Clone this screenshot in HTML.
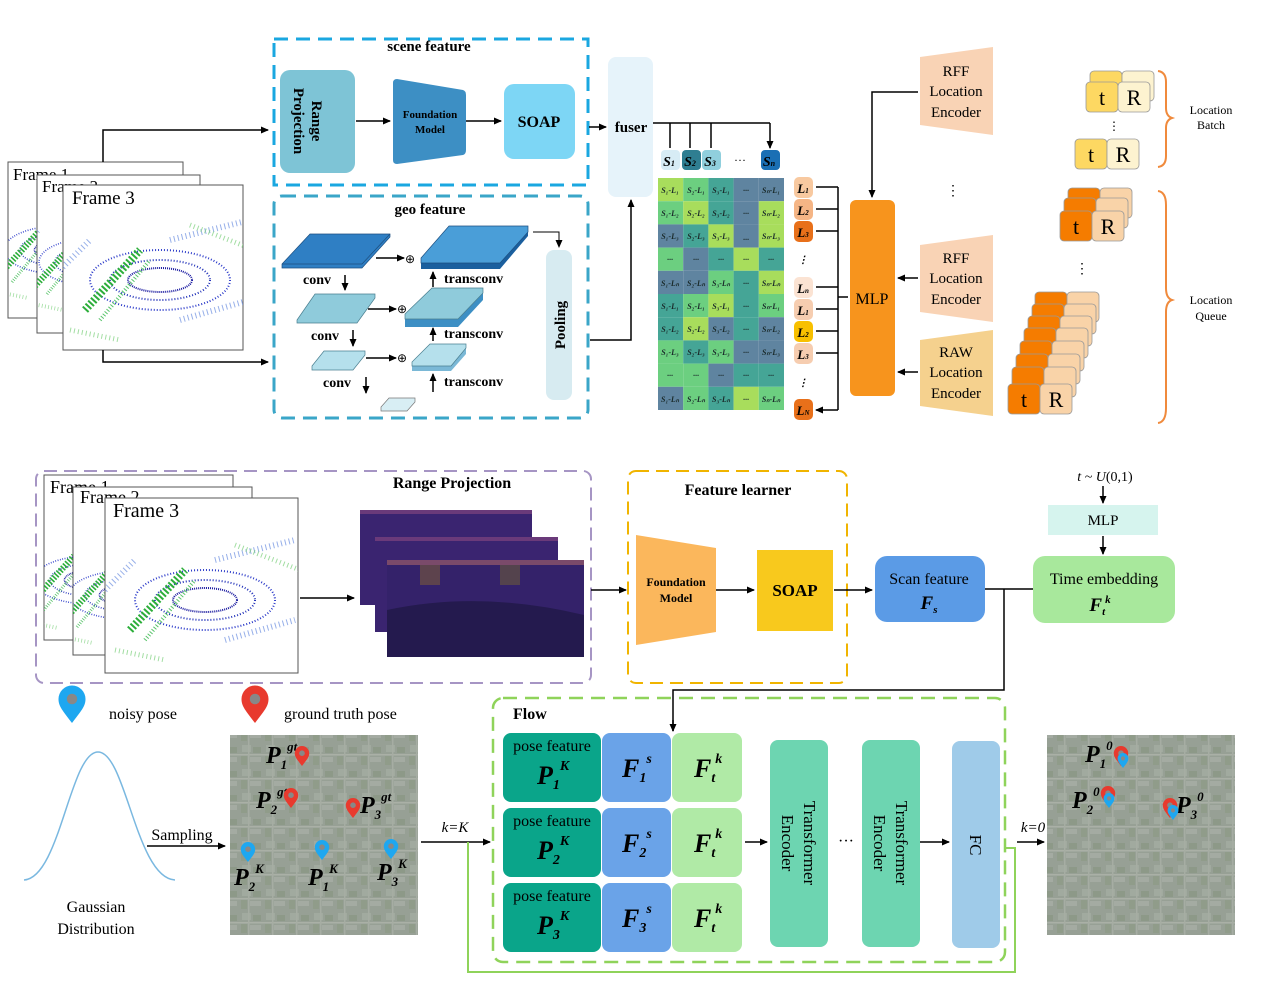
<!DOCTYPE html>
<html><head><meta charset="utf-8"><style>
html,body{margin:0;padding:0;background:#fff}
svg{display:block}
text{font-family:"Liberation Serif",serif}
</style></head><body>
<svg width="1264" height="984" viewBox="0 0 1264 984" xmlns="http://www.w3.org/2000/svg">
<defs>
<marker id="a" markerWidth="8" markerHeight="8" refX="7" refY="4" orient="auto" markerUnits="userSpaceOnUse"><path d="M0,0.5 L8,4 L0,7.5 z" fill="#000"/></marker>
<pattern id="map" width="24" height="24" patternUnits="userSpaceOnUse">
<rect width="24" height="24" fill="#8c968c"/>
<rect x="2" y="1" width="9" height="7" fill="#a3aaa2"/><rect x="13" y="3" width="8" height="6" fill="#76866f"/>
<rect x="1" y="12" width="6" height="9" fill="#7d8c74"/><rect x="10" y="13" width="11" height="5" fill="#a9aea8"/>
<rect x="0" y="10" width="24" height="1.5" fill="#b5b8b2"/><rect x="8" y="0" width="1.5" height="24" fill="#aeb1ab"/>
</pattern>
<g id="pc">
<ellipse cx="0" cy="0" rx="70" ry="30" fill="none" stroke="#2a39c9" stroke-width="2" stroke-dasharray="1 2"/>
<ellipse cx="0" cy="0" rx="50" ry="20" fill="none" stroke="#1f2fb8" stroke-width="2" stroke-dasharray="1 2"/>
<ellipse cx="0" cy="0" rx="32" ry="12" fill="none" stroke="#1a1aa0" stroke-width="2" stroke-dasharray="1 1"/>
<path d="M-75,30 L-20,-30" stroke="#2cae3a" stroke-width="8" stroke-dasharray="2 2"/>
<path d="M-60,40 L-10,-20" stroke="#58c46a" stroke-width="4" stroke-dasharray="1 2"/>
<path d="M10,-40 L90,-60 M20,40 L90,20 M-100,-10 L-70,-40" stroke="#6b8ee0" stroke-width="6" stroke-dasharray="1 3" opacity=".7"/>
<path d="M30,-55 L95,-30 M-90,50 L-40,60" stroke="#7cd07c" stroke-width="5" stroke-dasharray="1 3" opacity=".7"/>
</g>
<g id="pinb"><path d="M0,0 c-6,-8 -9,-11 -9,-16 a9,9 0 1 1 18,0 c0,5 -3,8 -9,16z" fill="#1ea7f0"/><circle cx="0" cy="-16" r="3.5" fill="#888"/></g>
<g id="pinr"><path d="M0,0 c-6,-8 -9,-11 -9,-16 a9,9 0 1 1 18,0 c0,5 -3,8 -9,16z" fill="#e83a2e"/><circle cx="0" cy="-16" r="3.5" fill="#888"/></g>
<clipPath id="c1"><rect x="63" y="185" width="180" height="165"/></clipPath>
<clipPath id="c2"><rect x="105" y="498" width="193" height="175"/></clipPath>
<clipPath id="t1"><rect x="8" y="162" width="175" height="156"/></clipPath>
<clipPath id="t2"><rect x="37" y="175" width="163" height="158"/></clipPath>
<clipPath id="b1"><rect x="44" y="475" width="189" height="165"/></clipPath>
<clipPath id="b2"><rect x="73" y="487" width="179" height="168"/></clipPath>
</defs>

<!-- ===== top left frames ===== -->
<rect x="8" y="162" width="175" height="156" fill="#fff" stroke="#555"/>
<g clip-path="url(#t1)"><g transform="translate(60,250) scale(.8)"><use href="#pc"/></g></g>
<text x="13" y="180" font-size="17">Frame 1</text>
<rect x="37" y="175" width="163" height="158" fill="#fff" stroke="#555"/>
<g clip-path="url(#t2)"><g transform="translate(95,262) scale(.8)"><use href="#pc"/></g></g>
<text x="42" y="192" font-size="17">Frame 2</text>
<rect x="63" y="185" width="180" height="165" fill="#fff" stroke="#555"/>
<g clip-path="url(#c1)"><g transform="translate(160,280)"><use href="#pc"/></g></g>
<text x="72" y="204" font-size="19">Frame 3</text>
<path d="M103,162 V130 H268" fill="none" stroke="#000" stroke-width="1.5" marker-end="url(#a)"/>
<path d="M103,350 V362 H268" fill="none" stroke="#000" stroke-width="1.5" marker-end="url(#a)"/>

<!-- scene feature -->
<rect x="274" y="39" width="314" height="146" fill="none" stroke="#1aa7e0" stroke-width="3" stroke-dasharray="14 8"/>
<text x="429" y="51" font-size="15" font-weight="bold" text-anchor="middle">scene feature</text>
<rect x="280" y="70" width="75" height="103" rx="10" fill="#7ec4d6"/>
<text transform="translate(312,121) rotate(90)" font-size="15" font-weight="bold" text-anchor="middle">Range</text>
<text transform="translate(294,121) rotate(90)" font-size="15" font-weight="bold" text-anchor="middle">Projection</text>
<path d="M356,121 H390" stroke="#000" stroke-width="1.5" marker-end="url(#a)"/>
<path d="M397,79 L463,90 Q466,91 466,95 V150 Q466,154 463,155 L397,164 Q393,164 393,160 V83 Q393,79 397,79z" fill="#3d8fc4"/>
<text x="430" y="118" font-size="11" font-weight="bold" text-anchor="middle">Foundation</text>
<text x="430" y="133" font-size="11" font-weight="bold" text-anchor="middle">Model</text>
<path d="M466,121 H501" stroke="#000" stroke-width="1.5" marker-end="url(#a)"/>
<rect x="504" y="84" width="71" height="75" rx="10" fill="#7dd6f5"/>
<text x="539" y="127" font-size="16" font-weight="bold" text-anchor="middle">SOAP</text>
<path d="M589,127 H606" stroke="#000" stroke-width="1.5" marker-end="url(#a)"/>

<!-- geo feature -->
<rect x="274" y="196" width="314" height="222" rx="8" fill="none" stroke="#3aa6c8" stroke-width="3" stroke-dasharray="14 8"/>
<text x="430" y="214" font-size="15" font-weight="bold" text-anchor="middle">geo feature</text>
<path d="M282,264 L310,234 L390,234 L390,237 L362,268 L282,268z" fill="#2f7fc4" stroke="#1d4f80" stroke-width=".7"/>
<path d="M282,264 L362,264 L390,234" fill="none" stroke="#1d4f80" stroke-width=".7"/>
<text x="303" y="284" font-size="14" font-weight="bold">conv</text><path d="M345,275 V290" stroke="#000" stroke-width="1.5" marker-end="url(#a)"/>
<path d="M297,320 L315,294 L375,294 L375,298 L357,323 L297,323z" fill="#8fcbdb" stroke="#4a7f90" stroke-width=".7"/>
<text x="311" y="340" font-size="14" font-weight="bold">conv</text><path d="M353,330 V346" stroke="#000" stroke-width="1.5" marker-end="url(#a)"/>
<path d="M312,366 L324,351 L365,351 L365,355 L353,370 L312,370z" fill="#b5e0ec" stroke="#4a7f90" stroke-width=".7"/>
<text x="323" y="387" font-size="14" font-weight="bold">conv</text><path d="M366,377 V393" stroke="#000" stroke-width="1.5" marker-end="url(#a)"/>
<path d="M381,407 L389,398 L415,398 L415,402 L407,411 L381,411z" fill="#d8eef4" stroke="#777" stroke-width=".7"/>
<path d="M376,258 H404" stroke="#000" stroke-width="1.5" marker-end="url(#a)"/><text x="410" y="263" font-size="12" text-anchor="middle">⊕</text>
<path d="M368,309 H396" stroke="#000" stroke-width="1.5" marker-end="url(#a)"/><text x="402" y="313" font-size="12" text-anchor="middle">⊕</text>
<path d="M366,358 H396" stroke="#000" stroke-width="1.5" marker-end="url(#a)"/><text x="402" y="362" font-size="12" text-anchor="middle">⊕</text>
<path d="M421,262 L449,227 L528,227 L528,236 L500,269 L421,269z" fill="#1a5f9e"/>
<path d="M421,258 L449,226 L528,226 L528,232 L500,263 L421,263z" fill="#4a9ed8" stroke="#1d4f80" stroke-width=".7"/>
<path d="M405,318 L432,290 L483,290 L483,300 L458,327 L405,327z" fill="#3d8fc4"/>
<path d="M405,314 L432,288 L483,288 L483,293 L458,319 L405,319z" fill="#8fcbdb" stroke="#4a7f90" stroke-width=".7"/>
<path d="M412,366 L430,346 L466,346 L466,354 L451,371 L412,371z" fill="#7ab8d6"/>
<path d="M412,362 L430,344 L466,344 L466,348 L451,366 L412,366z" fill="#b5e0ec" stroke="#4a7f90" stroke-width=".7"/>
<text x="444" y="283" font-size="14" font-weight="bold">transconv</text><path d="M433,287 V272" stroke="#000" stroke-width="1.5" marker-end="url(#a)"/>
<text x="444" y="338" font-size="14" font-weight="bold">transconv</text><path d="M433,341 V328" stroke="#000" stroke-width="1.5" marker-end="url(#a)"/>
<text x="444" y="386" font-size="14" font-weight="bold">transconv</text><path d="M433,392 V374" stroke="#000" stroke-width="1.5" marker-end="url(#a)"/>
<path d="M533,232 H559 V247" fill="none" stroke="#000" stroke-width="1" marker-end="url(#a)"/>
<rect x="546" y="250" width="26" height="150" rx="8" fill="#d7ebf1"/>
<text transform="translate(565,325) rotate(-90)" font-size="15" font-weight="bold" text-anchor="middle">Pooling</text>
<path d="M590,340 H631 V200" fill="none" stroke="#000" stroke-width="1.5" marker-end="url(#a)"/>

<!-- fuser -->
<rect x="608" y="57" width="45" height="140" rx="8" fill="#e6f3fa"/>
<text x="631" y="132" font-size="15" font-weight="bold" text-anchor="middle">fuser</text>
<path d="M653,123 H770" stroke="#000" stroke-width="1.5"/>
<path d="M670,123 V148 M690,123 V148 M711,123 V148 M770,123 V148" stroke="#000" stroke-width="1.5" marker-end="url(#a)"/>
<rect x="661" y="150" width="19" height="20" rx="4" fill="#d7ecf5"/>
<rect x="682" y="150" width="19" height="20" rx="4" fill="#2f7e91"/>
<rect x="702" y="150" width="19" height="20" rx="4" fill="#90cfdd"/>
<rect x="761" y="150" width="19" height="20" rx="4" fill="#1a6fb4"/>
<g font-size="14" font-weight="bold" font-style="italic" text-anchor="middle">
<text x="669" y="166">S<tspan font-size="8">1</tspan></text>
<text x="690" y="166">S<tspan font-size="8">2</tspan></text>
<text x="710" y="166">S<tspan font-size="8">3</tspan></text>
<text x="769" y="166">S<tspan font-size="8">n</tspan></text>
</g>
<text x="740" y="164" font-size="12" text-anchor="middle">···</text>

<!-- matrix -->
<g>
<rect x="658" y="178" width="25.2" height="23.2" fill="#a8dd5c"/><rect x="683.2" y="178" width="25.2" height="23.2" fill="#6ccf80"/><rect x="708.4" y="178" width="25.2" height="23.2" fill="#45a596"/><rect x="733.6" y="178" width="25.2" height="23.2" fill="#5f84a0"/><rect x="758.8" y="178" width="25.2" height="23.2" fill="#5f84a0"/>
<rect x="658" y="201.2" width="25.2" height="23.2" fill="#6ccf80"/><rect x="683.2" y="201.2" width="25.2" height="23.2" fill="#a8dd5c"/><rect x="708.4" y="201.2" width="25.2" height="23.2" fill="#45a596"/><rect x="733.6" y="201.2" width="25.2" height="23.2" fill="#5f84a0"/><rect x="758.8" y="201.2" width="25.2" height="23.2" fill="#a8dd5c"/>
<rect x="658" y="224.4" width="25.2" height="23.2" fill="#5f84a0"/><rect x="683.2" y="224.4" width="25.2" height="23.2" fill="#45a596"/><rect x="708.4" y="224.4" width="25.2" height="23.2" fill="#a8dd5c"/><rect x="733.6" y="224.4" width="25.2" height="23.2" fill="#5f84a0"/><rect x="758.8" y="224.4" width="25.2" height="23.2" fill="#a8dd5c"/>
<rect x="658" y="247.6" width="25.2" height="23.2" fill="#6ccf80"/><rect x="683.2" y="247.6" width="25.2" height="23.2" fill="#5f84a0"/><rect x="708.4" y="247.6" width="25.2" height="23.2" fill="#45a596"/><rect x="733.6" y="247.6" width="25.2" height="23.2" fill="#a8dd5c"/><rect x="758.8" y="247.6" width="25.2" height="23.2" fill="#45a596"/>
<rect x="658" y="270.8" width="25.2" height="23.2" fill="#5f84a0"/><rect x="683.2" y="270.8" width="25.2" height="23.2" fill="#5f84a0"/><rect x="708.4" y="270.8" width="25.2" height="23.2" fill="#6ccf80"/><rect x="733.6" y="270.8" width="25.2" height="23.2" fill="#45a596"/><rect x="758.8" y="270.8" width="25.2" height="23.2" fill="#a8dd5c"/>
<rect x="658" y="294" width="25.2" height="23.2" fill="#45a596"/><rect x="683.2" y="294" width="25.2" height="23.2" fill="#6ccf80"/><rect x="708.4" y="294" width="25.2" height="23.2" fill="#a8dd5c"/><rect x="733.6" y="294" width="25.2" height="23.2" fill="#45a596"/><rect x="758.8" y="294" width="25.2" height="23.2" fill="#6ccf80"/>
<rect x="658" y="317.2" width="25.2" height="23.2" fill="#45a596"/><rect x="683.2" y="317.2" width="25.2" height="23.2" fill="#a8dd5c"/><rect x="708.4" y="317.2" width="25.2" height="23.2" fill="#5f84a0"/><rect x="733.6" y="317.2" width="25.2" height="23.2" fill="#45a596"/><rect x="758.8" y="317.2" width="25.2" height="23.2" fill="#5f84a0"/>
<rect x="658" y="340.4" width="25.2" height="23.2" fill="#6ccf80"/><rect x="683.2" y="340.4" width="25.2" height="23.2" fill="#45a596"/><rect x="708.4" y="340.4" width="25.2" height="23.2" fill="#6ccf80"/><rect x="733.6" y="340.4" width="25.2" height="23.2" fill="#5f84a0"/><rect x="758.8" y="340.4" width="25.2" height="23.2" fill="#5f84a0"/>
<rect x="658" y="363.6" width="25.2" height="23.2" fill="#6ccf80"/><rect x="683.2" y="363.6" width="25.2" height="23.2" fill="#6ccf80"/><rect x="708.4" y="363.6" width="25.2" height="23.2" fill="#5f84a0"/><rect x="733.6" y="363.6" width="25.2" height="23.2" fill="#45a596"/><rect x="758.8" y="363.6" width="25.2" height="23.2" fill="#45a596"/>
<rect x="658" y="386.8" width="25.2" height="23.2" fill="#5f84a0"/><rect x="683.2" y="386.8" width="25.2" height="23.2" fill="#6ccf80"/><rect x="708.4" y="386.8" width="25.2" height="23.2" fill="#45a596"/><rect x="733.6" y="386.8" width="25.2" height="23.2" fill="#a8dd5c"/><rect x="758.8" y="386.8" width="25.2" height="23.2" fill="#6ccf80"/>
</g>
<g font-size="8" font-weight="bold" font-style="italic" text-anchor="middle" fill="#1a2a2a">
<text x="670" y="193">S₁-L₁</text><text x="696" y="193">S₂-L₁</text><text x="721" y="193">S₃-L₁</text><text x="746" y="193">···</text><text x="771" y="193">Sₙ-L₁</text>
<text x="670" y="216">S₁-L₂</text><text x="696" y="216">S₂-L₂</text><text x="721" y="216">S₃-L₂</text><text x="746" y="216">···</text><text x="771" y="216">Sₙ-L₂</text>
<text x="670" y="239">S₁-L₃</text><text x="696" y="239">S₂-L₃</text><text x="721" y="239">S₃-L₃</text><text x="746" y="242">···</text><text x="771" y="239">Sₙ-L₃</text>
<text x="670" y="262">···</text><text x="696" y="262">···</text><text x="721" y="262">···</text><text x="746" y="262">···</text><text x="771" y="262">···</text>
<text x="670" y="286">S₁-Lₙ</text><text x="696" y="286">S₂-Lₙ</text><text x="721" y="286">S₃-Lₙ</text><text x="746" y="286">···</text><text x="771" y="286">Sₙ-Lₙ</text>
<text x="670" y="309">S₁-L₁</text><text x="696" y="309">S₂-L₁</text><text x="721" y="309">S₃-L₁</text><text x="746" y="309">···</text><text x="771" y="309">Sₙ-L₁</text>
<text x="670" y="332">S₁-L₂</text><text x="696" y="332">S₂-L₂</text><text x="721" y="332">S₃-L₂</text><text x="746" y="332">···</text><text x="771" y="332">Sₙ-L₂</text>
<text x="670" y="355">S₁-L₃</text><text x="696" y="355">S₂-L₃</text><text x="721" y="355">S₃-L₃</text><text x="746" y="355">···</text><text x="771" y="355">Sₙ-L₃</text>
<text x="670" y="378">···</text><text x="696" y="378">···</text><text x="721" y="378">···</text><text x="746" y="378">···</text><text x="771" y="378">···</text>
<text x="670" y="402">S₁-Lₙ</text><text x="696" y="402">S₂-Lₙ</text><text x="721" y="402">S₃-Lₙ</text><text x="746" y="402">···</text><text x="771" y="402">Sₙ-Lₙ</text>
</g>

<!-- L labels -->
<g font-size="13" font-weight="bold" font-style="italic" text-anchor="middle">
<rect x="794" y="177" width="19" height="21" rx="5" fill="#f8c9a0"/><text x="803" y="193">L<tspan font-size="7">1</tspan></text>
<rect x="794" y="199" width="19" height="21" rx="5" fill="#f5b585"/><text x="803" y="215">L<tspan font-size="7">2</tspan></text>
<rect x="794" y="221" width="19" height="21" rx="5" fill="#e8701a"/><text x="803" y="237">L<tspan font-size="7">3</tspan></text>
<text x="803" y="263" font-size="10">⋮</text>
<rect x="794" y="277" width="19" height="21" rx="5" fill="#fbe3d3"/><text x="803" y="293">L<tspan font-size="7">n</tspan></text>
<rect x="794" y="299" width="19" height="21" rx="5" fill="#f6cdb0"/><text x="803" y="315">L<tspan font-size="7">1</tspan></text>
<rect x="794" y="321" width="19" height="21" rx="5" fill="#f8c000"/><text x="803" y="337">L<tspan font-size="7">2</tspan></text>
<rect x="794" y="343" width="19" height="21" rx="5" fill="#f6cdb0"/><text x="803" y="359">L<tspan font-size="7">3</tspan></text>
<text x="803" y="386" font-size="10">⋮</text>
<rect x="794" y="399" width="19" height="21" rx="5" fill="#e8701a"/><text x="803" y="415">L<tspan font-size="7">N</tspan></text>
</g>
<g stroke="#000" stroke-width="1.5" fill="none">
<path d="M838,187 V410 M848,297 H838"/>
<path d="M838,187 H816 M838,209 H816 M838,231 H816 M838,287 H816 M838,309 H816 M838,331 H816 M838,353 H816 M838,410 H816" marker-end="url(#a)"/>
</g>

<!-- MLP -->
<rect x="850" y="200" width="45" height="196" rx="6" fill="#f7941d"/>
<text x="872" y="304" font-size="16" text-anchor="middle">MLP</text>
<path d="M918,92 H872 V197" fill="none" stroke="#000" stroke-width="1.5" marker-end="url(#a)"/>
<path d="M918,278 H898" stroke="#000" stroke-width="1.5" marker-end="url(#a)"/>
<path d="M918,372 H898" stroke="#000" stroke-width="1.5" marker-end="url(#a)"/>
<path d="M920,57 L993,47 V135 L920,125z" fill="#f9d3b5"/>
<text x="956" y="76" font-size="15" text-anchor="middle">RFF</text><text x="956" y="96" font-size="15" text-anchor="middle">Location</text><text x="956" y="117" font-size="15" text-anchor="middle">Encoder</text>
<text x="953" y="195" font-size="14" text-anchor="middle">⋮</text>
<path d="M920,245 L993,235 V322 L920,312z" fill="#f9d3b5"/>
<text x="956" y="263" font-size="15" text-anchor="middle">RFF</text><text x="956" y="283" font-size="15" text-anchor="middle">Location</text><text x="956" y="304" font-size="15" text-anchor="middle">Encoder</text>
<path d="M920,340 L993,330 V416 L920,406z" fill="#f5d18e"/>
<text x="956" y="357" font-size="15" text-anchor="middle">RAW</text><text x="956" y="377" font-size="15" text-anchor="middle">Location</text><text x="956" y="398" font-size="15" text-anchor="middle">Encoder</text>

<!-- location batch / queue -->
<g font-size="22" text-anchor="middle" stroke="#999" stroke-width=".8">
<rect x="1090" y="71" width="32" height="30" rx="4" fill="#fdd862"/><rect x="1122" y="71" width="32" height="30" rx="4" fill="#fdf3d0"/>
<rect x="1086" y="82" width="32" height="30" rx="4" fill="#fdd862"/><rect x="1118" y="82" width="32" height="30" rx="4" fill="#fdf3d0"/>
<rect x="1075" y="139" width="32" height="30" rx="4" fill="#fdd862"/><rect x="1107" y="139" width="32" height="30" rx="4" fill="#fdf3d0"/>
<rect x="1068" y="188" width="32" height="30" rx="4" fill="#f57c00"/><rect x="1100" y="188" width="32" height="30" rx="4" fill="#f9d3a8"/>
<rect x="1064" y="198" width="32" height="30" rx="4" fill="#f57c00"/><rect x="1096" y="198" width="32" height="30" rx="4" fill="#f9d3a8"/>
<rect x="1060" y="211" width="32" height="30" rx="4" fill="#f57c00"/><rect x="1092" y="211" width="32" height="30" rx="4" fill="#f9d3a8"/>
<rect x="1035" y="292" width="32" height="30" rx="4" fill="#f57c00"/><rect x="1067" y="292" width="32" height="30" rx="4" fill="#f9d3a8"/>
<rect x="1032" y="304" width="32" height="30" rx="4" fill="#f57c00"/><rect x="1064" y="304" width="32" height="30" rx="4" fill="#f9d3a8"/>
<rect x="1028" y="316" width="32" height="30" rx="4" fill="#f57c00"/><rect x="1060" y="316" width="32" height="30" rx="4" fill="#f9d3a8"/>
<rect x="1024" y="328" width="32" height="30" rx="4" fill="#f57c00"/><rect x="1056" y="328" width="32" height="30" rx="4" fill="#f9d3a8"/>
<rect x="1020" y="341" width="32" height="30" rx="4" fill="#f57c00"/><rect x="1052" y="341" width="32" height="30" rx="4" fill="#f9d3a8"/>
<rect x="1016" y="354" width="32" height="30" rx="4" fill="#f57c00"/><rect x="1048" y="354" width="32" height="30" rx="4" fill="#f9d3a8"/>
<rect x="1012" y="367" width="32" height="30" rx="4" fill="#f57c00"/><rect x="1044" y="367" width="32" height="30" rx="4" fill="#f9d3a8"/>
<rect x="1008" y="384" width="32" height="30" rx="4" fill="#f57c00"/><rect x="1040" y="384" width="32" height="30" rx="4" fill="#f9d3a8"/>
</g>
<g font-size="22" text-anchor="middle">
<text x="1102" y="105">t</text><text x="1134" y="105">R</text>
<text x="1091" y="162">t</text><text x="1123" y="162">R</text>
<text x="1076" y="234">t</text><text x="1108" y="234">R</text>
<text x="1024" y="407">t</text><text x="1056" y="407">R</text>
</g>
<text x="1108" y="130" font-size="12">⋮</text>
<text x="1075" y="273" font-size="14">⋮</text>
<path d="M1158,71 Q1166,72 1166,82 V108 Q1166,116 1172,118 Q1166,120 1166,128 V156 Q1166,166 1158,167" fill="none" stroke="#f08a3c" stroke-width="2"/>
<path d="M1158,191 Q1166,192 1166,205 V288 Q1166,298 1172,300 Q1166,302 1166,312 V408 Q1166,422 1158,423" fill="none" stroke="#f08a3c" stroke-width="2"/>
<g font-size="12" text-anchor="middle"><text x="1211" y="114">Location</text><text x="1211" y="129">Batch</text><text x="1211" y="304">Location</text><text x="1211" y="320">Queue</text></g>

<!-- ===== bottom ===== -->
<rect x="36" y="471" width="555" height="212" rx="8" fill="none" stroke="#a695c4" stroke-width="2" stroke-dasharray="13 7"/>
<rect x="44" y="475" width="189" height="165" fill="#fff" stroke="#555"/>
<g clip-path="url(#b1)"><g transform="translate(90,580) scale(.8)"><use href="#pc"/></g></g>
<text x="50" y="493" font-size="18">Frame 1</text>
<rect x="73" y="487" width="179" height="168" fill="#fff" stroke="#555"/>
<g clip-path="url(#b2)"><g transform="translate(125,595) scale(.8)"><use href="#pc"/></g></g>
<text x="80" y="503" font-size="18">Frame 2</text>
<rect x="105" y="498" width="193" height="175" fill="#fff" stroke="#555"/>
<g clip-path="url(#c2)"><g transform="translate(205,600)"><use href="#pc"/></g></g>
<text x="113" y="517" font-size="20">Frame 3</text>
<text x="452" y="488" font-size="16" font-weight="bold" text-anchor="middle">Range Projection</text>
<path d="M300,598 H354" stroke="#000" stroke-width="1.5" marker-end="url(#a)"/>
<rect x="360" y="510" width="172" height="95" fill="#3a2470"/><rect x="360" y="510" width="172" height="4" fill="#6a3a7a"/>
<rect x="375" y="537" width="183" height="95" fill="#3a2470"/><rect x="375" y="537" width="183" height="4" fill="#6a3a7a"/>
<rect x="387" y="560" width="197" height="97" fill="#34226a"/><rect x="387" y="560" width="197" height="5" fill="#7a4a6a"/>
<rect x="420" y="565" width="20" height="20" fill="#7a5a3a" opacity=".6"/><rect x="500" y="565" width="20" height="20" fill="#6a5a3a" opacity=".6"/>
<path d="M387,610 Q480,590 584,615 V657 H387z" fill="#241a4e"/>
<path d="M591,590 H626" stroke="#000" stroke-width="1.5" marker-end="url(#a)"/>

<rect x="628" y="471" width="219" height="212" rx="8" fill="none" stroke="#f0b400" stroke-width="2" stroke-dasharray="13 7"/>
<text x="738" y="495" font-size="16" font-weight="bold" text-anchor="middle">Feature learner</text>
<path d="M636,535 L716,548 V632 L636,645z" fill="#fbb75c"/>
<text x="676" y="586" font-size="12" font-weight="bold" text-anchor="middle">Foundation</text>
<text x="676" y="602" font-size="12" font-weight="bold" text-anchor="middle">Model</text>
<path d="M716,590 H754" stroke="#000" stroke-width="1.5" marker-end="url(#a)"/>
<rect x="757" y="550" width="76" height="81" fill="#f8c91d"/>
<text x="795" y="596" font-size="17" font-weight="bold" text-anchor="middle">SOAP</text>
<path d="M834,590 H872" stroke="#000" stroke-width="1.5" marker-end="url(#a)"/>
<rect x="875" y="556" width="110" height="66" rx="12" fill="#5b9be6"/>
<text x="929" y="584" font-size="16" text-anchor="middle">Scan feature</text>
<text x="929" y="609" font-size="19" font-weight="bold" font-style="italic" text-anchor="middle">F<tspan font-size="11" dy="4">s</tspan></text>
<path d="M985,589 H1033 M1004,589 V690 H673 V731" fill="none" stroke="#000" stroke-width="1.5"/>
<path d="M673,720 V731" stroke="#000" stroke-width="1.5" marker-end="url(#a)"/>
<rect x="1033" y="556" width="142" height="67" rx="12" fill="#a8e89c"/>
<text x="1104" y="584" font-size="16" text-anchor="middle">Time embedding</text>
<text x="1100" y="611" font-size="19" font-weight="bold" font-style="italic" text-anchor="middle">F<tspan font-size="11" dy="4">t</tspan><tspan font-size="11" dy="-12">k</tspan></text>
<rect x="1048" y="505" width="110" height="30" fill="#d6f4ee"/>
<text x="1103" y="525" font-size="15" text-anchor="middle">MLP</text>
<text x="1105" y="481" font-size="14" font-style="italic" text-anchor="middle">t ~ U<tspan font-style="normal">(0,1)</tspan></text>
<path d="M1103,486 V503" stroke="#000" stroke-width="1.5" marker-end="url(#a)"/>
<path d="M1103,536 V554" stroke="#000" stroke-width="1.5" marker-end="url(#a)"/>

<!-- legend -->
<g transform="translate(72,723) scale(1.5)"><use href="#pinb"/></g>
<text x="109" y="719" font-size="16">noisy pose</text>
<g transform="translate(255,723) scale(1.5)"><use href="#pinr"/></g>
<text x="284" y="719" font-size="16">ground truth pose</text>

<path d="M24,880 C60,878 70,752 98,752 C126,752 136,878 175,880" fill="none" stroke="#7ab8e0" stroke-width="1.5"/>
<text x="96" y="912" font-size="16" text-anchor="middle">Gaussian</text>
<text x="96" y="934" font-size="16" text-anchor="middle">Distribution</text>
<text x="182" y="840" font-size="16" text-anchor="middle">Sampling</text>
<path d="M147,846 H225" stroke="#000" stroke-width="1.5" marker-end="url(#a)"/>

<!-- map 1 -->
<rect x="230" y="735" width="188" height="200" fill="url(#map)"/>
<rect x="230" y="735" width="188" height="200" fill="#a0aa9c" opacity=".55"/>
<g font-weight="bold" font-style="italic" font-size="24">
<text x="266" y="763">P<tspan font-size="13" dy="6">1</tspan><tspan font-size="13" dy="-18">gt</tspan></text>
<text x="256" y="808">P<tspan font-size="13" dy="6">2</tspan><tspan font-size="13" dy="-18">gt</tspan></text>
<text x="360" y="813">P<tspan font-size="13" dy="6">3</tspan><tspan font-size="13" dy="-18">gt</tspan></text>
<text x="234" y="885">P<tspan font-size="13" dy="6">2</tspan><tspan font-size="13" dy="-18">K</tspan></text>
<text x="308" y="885">P<tspan font-size="13" dy="6">1</tspan><tspan font-size="13" dy="-18">K</tspan></text>
<text x="377" y="880">P<tspan font-size="13" dy="6">3</tspan><tspan font-size="13" dy="-18">K</tspan></text>
</g>
<use href="#pinr" transform="translate(302,766) scale(.8)"/><use href="#pinr" transform="translate(291,808) scale(.8)"/><use href="#pinr" transform="translate(353,818) scale(.8)"/>
<use href="#pinb" transform="translate(248,862) scale(.8)"/><use href="#pinb" transform="translate(322,860) scale(.8)"/><use href="#pinb" transform="translate(391,859) scale(.8)"/>

<!-- k=K -->
<text x="455" y="832" font-size="15" font-style="italic" text-anchor="middle">k=K</text>
<path d="M421,842 H490" stroke="#000" stroke-width="1.5" marker-end="url(#a)"/>
<path d="M1005,848 H1015 V972 H468 V842" fill="none" stroke="#8fd35a" stroke-width="2"/>

<!-- flow -->
<rect x="493" y="698" width="512" height="264" rx="10" fill="none" stroke="#8fd35a" stroke-width="2.5" stroke-dasharray="14 8"/>
<text x="513" y="719" font-size="16" font-weight="bold">Flow</text>
<g>
<rect x="503" y="733" width="98" height="69" rx="8" fill="#0aa58a"/><rect x="602" y="733" width="69" height="69" rx="8" fill="#6aa3e8"/><rect x="672" y="733" width="70" height="69" rx="8" fill="#b0eaa6"/>
<rect x="503" y="808" width="98" height="69" rx="8" fill="#0aa58a"/><rect x="602" y="808" width="69" height="69" rx="8" fill="#6aa3e8"/><rect x="672" y="808" width="70" height="69" rx="8" fill="#b0eaa6"/>
<rect x="503" y="883" width="98" height="69" rx="8" fill="#0aa58a"/><rect x="602" y="883" width="69" height="69" rx="8" fill="#6aa3e8"/><rect x="672" y="883" width="70" height="69" rx="8" fill="#b0eaa6"/>
</g>
<g font-size="16" text-anchor="middle"><text x="552" y="751">pose feature</text><text x="552" y="826">pose feature</text><text x="552" y="901">pose feature</text></g>
<g font-size="26" font-weight="bold" font-style="italic">
<text x="537" y="784">P<tspan font-size="14" dy="5">1</tspan><tspan font-size="14" dy="-19">K</tspan></text>
<text x="537" y="859">P<tspan font-size="14" dy="5">2</tspan><tspan font-size="14" dy="-19">K</tspan></text>
<text x="537" y="934">P<tspan font-size="14" dy="5">3</tspan><tspan font-size="14" dy="-19">K</tspan></text>
<text x="622" y="777">F<tspan font-size="14" dy="5">1</tspan><tspan font-size="14" dy="-19">s</tspan></text>
<text x="622" y="852">F<tspan font-size="14" dy="5">2</tspan><tspan font-size="14" dy="-19">s</tspan></text>
<text x="622" y="927">F<tspan font-size="14" dy="5">3</tspan><tspan font-size="14" dy="-19">s</tspan></text>
<text x="694" y="777">F<tspan font-size="14" dy="5">t</tspan><tspan font-size="14" dy="-19">k</tspan></text>
<text x="694" y="852">F<tspan font-size="14" dy="5">t</tspan><tspan font-size="14" dy="-19">k</tspan></text>
<text x="694" y="927">F<tspan font-size="14" dy="5">t</tspan><tspan font-size="14" dy="-19">k</tspan></text>
</g>
<path d="M745,842 H767" stroke="#000" stroke-width="1.5" marker-end="url(#a)"/>
<rect x="770" y="740" width="58" height="207" rx="8" fill="#6dd5b1"/>
<text transform="translate(800,843) rotate(90)" font-size="17" text-anchor="middle"><tspan x="0" dy="-4">Transformer</tspan><tspan x="0" dy="22">Encoder</tspan></text>
<text x="846" y="846" font-size="16" text-anchor="middle">···</text>
<rect x="862" y="740" width="58" height="207" rx="8" fill="#6dd5b1"/>
<text transform="translate(892,843) rotate(90)" font-size="17" text-anchor="middle"><tspan x="0" dy="-4">Transformer</tspan><tspan x="0" dy="22">Encoder</tspan></text>
<path d="M920,842 H949" stroke="#000" stroke-width="1.5" marker-end="url(#a)"/>
<rect x="952" y="741" width="48" height="207" rx="8" fill="#9fcbe9"/>
<text transform="translate(970,845) rotate(90)" font-size="17" text-anchor="middle">FC</text>

<text x="1033" y="832" font-size="15" font-style="italic" text-anchor="middle">k=0</text>
<path d="M1017,842 H1044" stroke="#000" stroke-width="1.5" marker-end="url(#a)"/>

<!-- map 2 -->
<rect x="1047" y="735" width="188" height="200" fill="url(#map)"/>
<rect x="1047" y="735" width="188" height="200" fill="#a0aa9c" opacity=".55"/>
<g font-weight="bold" font-style="italic" font-size="24">
<text x="1085" y="762">P<tspan font-size="13" dy="6">1</tspan><tspan font-size="13" dy="-18">0</tspan></text>
<text x="1072" y="808">P<tspan font-size="13" dy="6">2</tspan><tspan font-size="13" dy="-18">0</tspan></text>
<text x="1176" y="813">P<tspan font-size="13" dy="6">3</tspan><tspan font-size="13" dy="-18">0</tspan></text>
</g>
<use href="#pinr" transform="translate(1121,766) scale(.8)"/><use href="#pinb" transform="translate(1123,768) scale(.6)"/>
<use href="#pinr" transform="translate(1108,806) scale(.8)"/><use href="#pinb" transform="translate(1109,808) scale(.6)"/>
<use href="#pinr" transform="translate(1170,818) scale(.8)"/><use href="#pinb" transform="translate(1173,820) scale(.6)"/>
</svg>
</body></html>
